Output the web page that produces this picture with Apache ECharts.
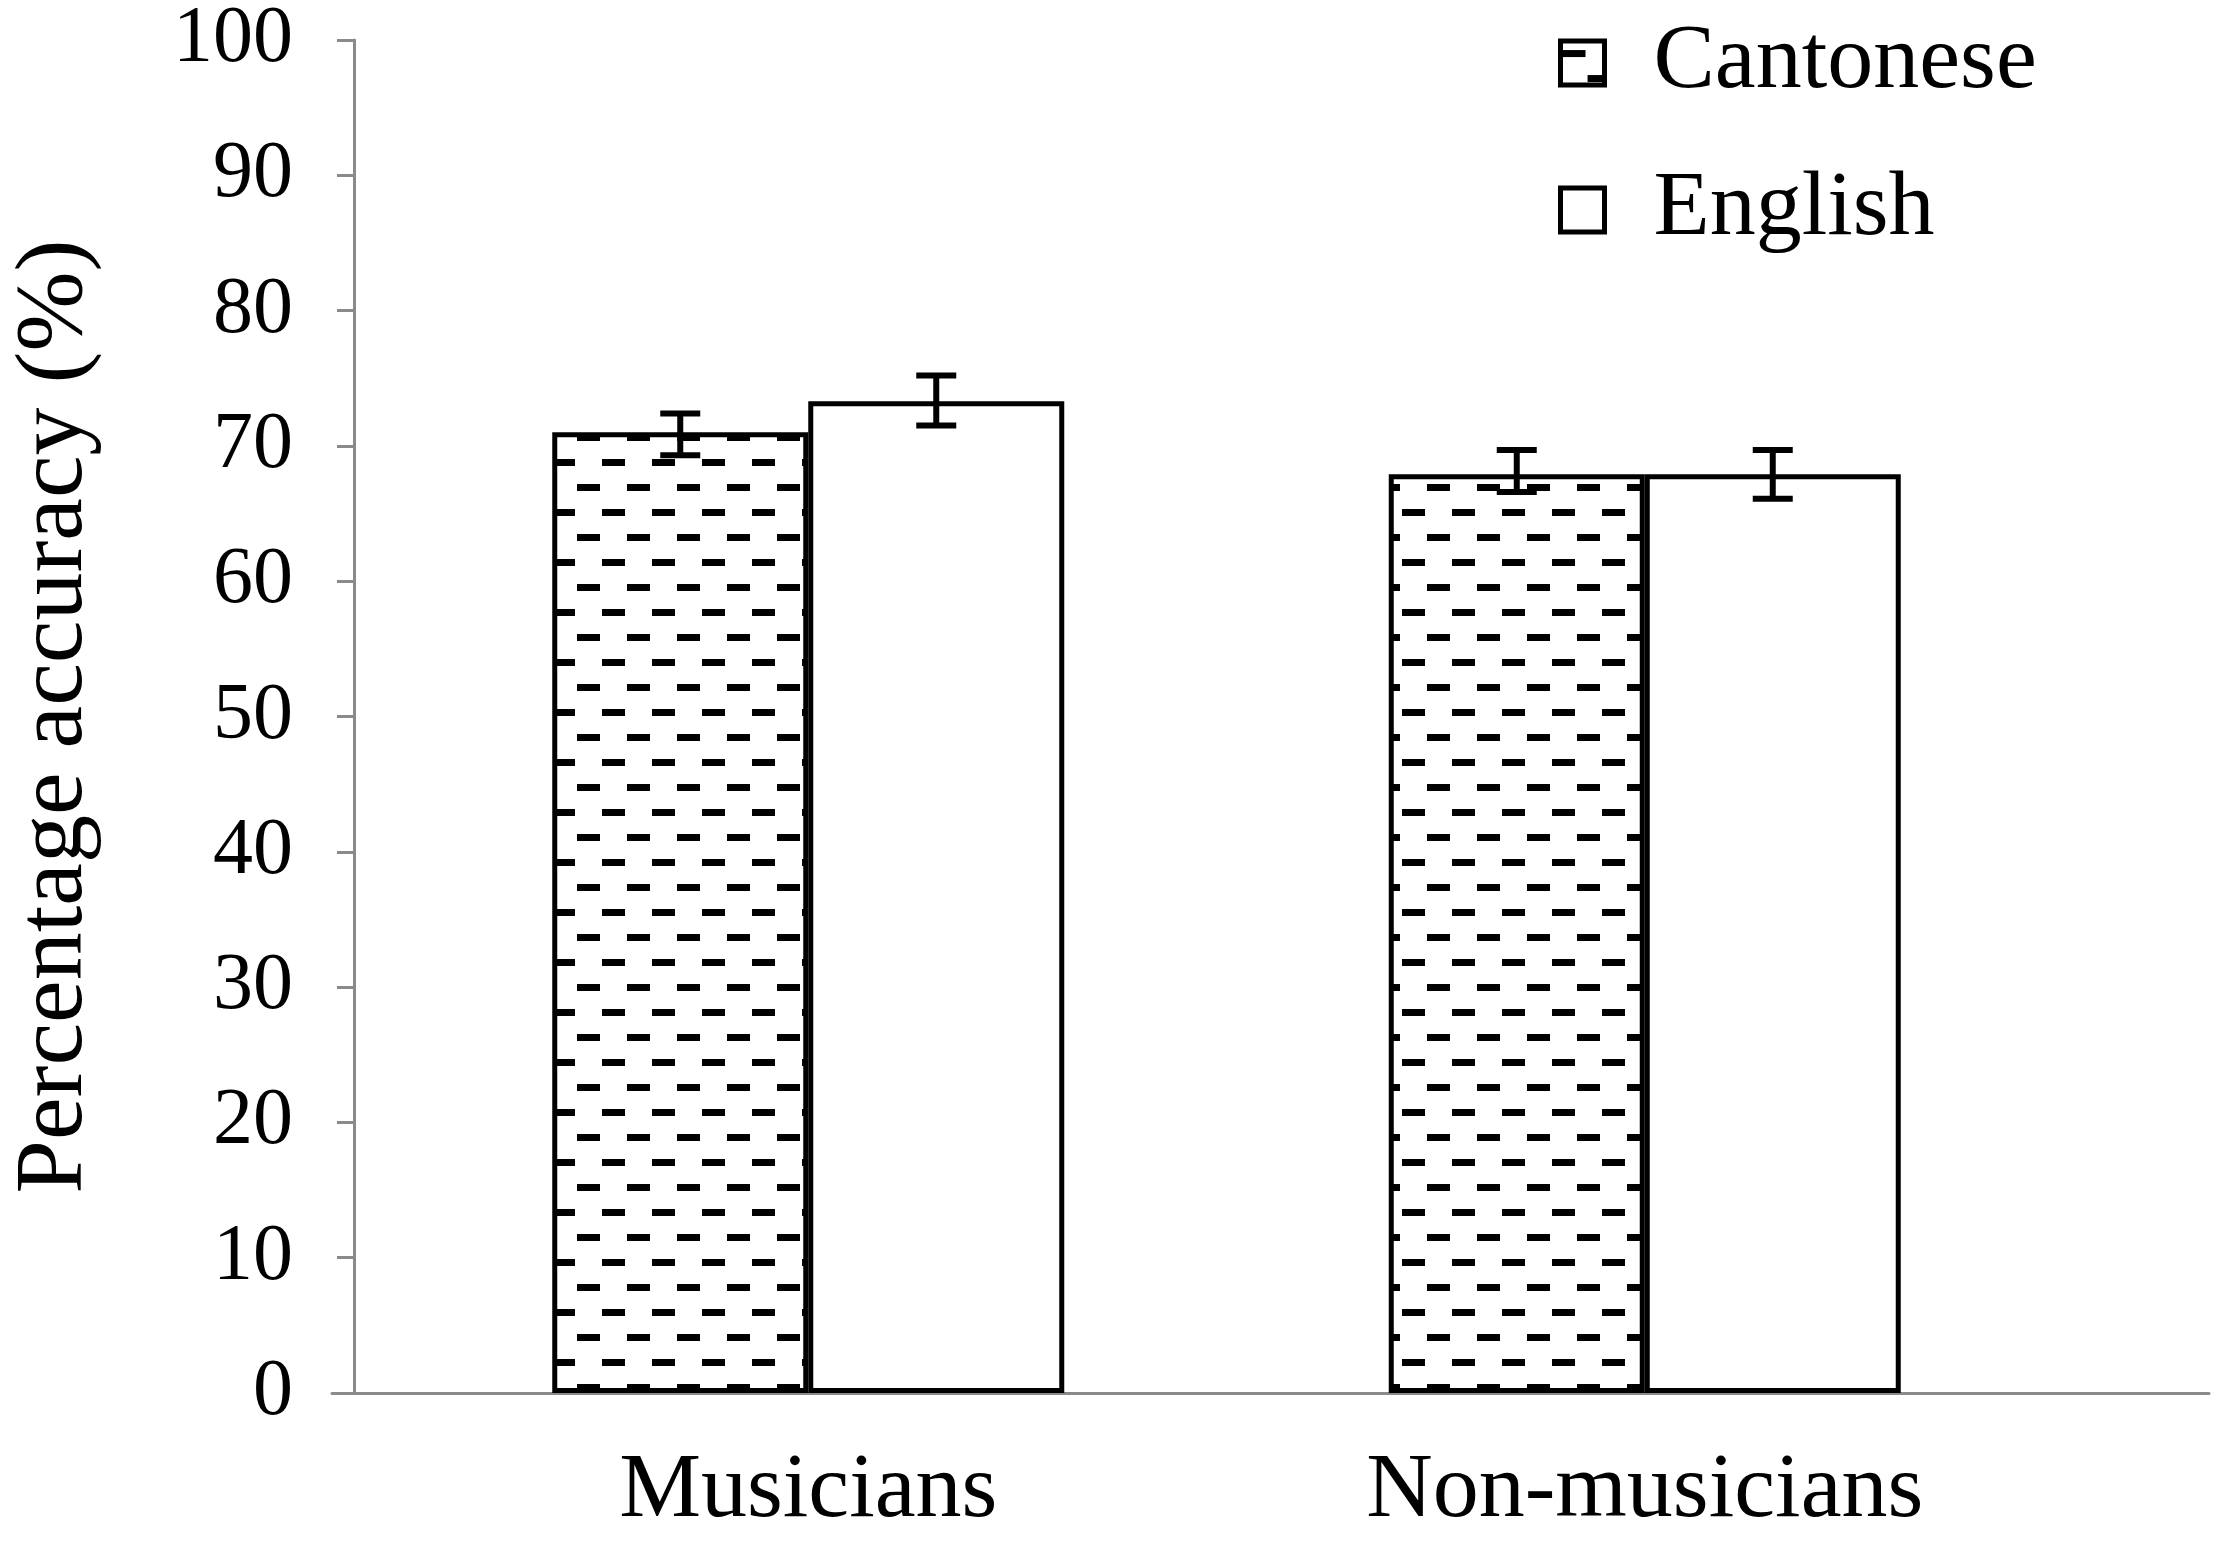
<!DOCTYPE html>
<html>
<head>
<meta charset="utf-8">
<script src="https://cdn.jsdelivr.net/npm/echarts@6/dist/echarts.min.js"></script>
<style>
  html, body { margin: 0; background: #fff; }
  #chart { width: 2217px; height: 1545px; }
</style>
</head>
<body>
<div id="chart"></div>
<script>
// data
const groups = ['Musicians', 'Non-musicians']
const seriesNames = ['Cantonese', 'English']
const cantonese = [71.0, 67.9]
const english = [73.3, 67.9]
const cantoneseLow = [69.3, 66.6]
const cantoneseHigh = [72.4, 69.7]
const englishLow = [71.5, 66.1]
const englishHigh = [75.2, 69.7]
const yMin = 0
const yMax = 100
const yStep = 10

const FONT = '"Liberation Serif", "DejaVu Serif", serif'
const BAR_WIDTH = 256
const CAP = 40
const AXIS_GREY = '#8a8a8a'

// dashed fill used for the Cantonese bars
function dashPattern () {
  const c = document.createElement('canvas')
  c.width = 50
  c.height = 50
  const ctx = c.getContext('2d')
  ctx.fillStyle = '#fff'
  ctx.fillRect(0, 0, 50, 50)
  ctx.fillStyle = '#000'
  ctx.fillRect(2, 9, 23, 7)
  ctx.fillRect(27, 34, 23, 7)
  return c
}

function errorBars (low, high, side) {
  return {
    type: 'custom',
    xAxisIndex: 0,
    yAxisIndex: 0,
    z: 10,
    silent: true,
    data: low.map((v, i) => [i, v, high[i]]),
    renderItem: function (params, api) {
      const x = api.coord([api.value(0), 0])[0] + side * BAR_WIDTH / 2
      const yLo = api.coord([api.value(0), api.value(1)])[1]
      const yHi = api.coord([api.value(0), api.value(2)])[1]
      const half = CAP / 2
      const style = { stroke: '#000', lineWidth: 6 }
      return {
        type: 'group',
        children: [
          { type: 'line', shape: { x1: x, y1: yHi, x2: x, y2: yLo }, style: style },
          { type: 'line', shape: { x1: x - half, y1: yHi, x2: x + half, y2: yHi }, style: style },
          { type: 'line', shape: { x1: x - half, y1: yLo, x2: x + half, y2: yLo }, style: style }
        ]
      }
    }
  }
}

const chart = echarts.init(document.getElementById('chart'))
chart.setOption({
  animation: false,
  backgroundColor: '#fff',
  textStyle: { fontFamily: FONT, color: '#000' },
  legend: {
    data: seriesNames,
    orient: 'vertical',
    left: 1553,
    top: 12,
    icon: 'rect',
    itemWidth: 44,
    itemHeight: 44,
    itemGap: 55,
    itemStyle: { borderWidth: 5, borderColor: '#000' },
    textStyle: {
      fontFamily: FONT,
      fontSize: 92,
      lineHeight: 90,
      color: '#000',
      padding: [0, 0, 0, 44]
    }
  },
  grid: [
    { left: 387, right: 154, top: 34, bottom: 152 },
    { left: 332, right: 8, top: 34, bottom: 152 }
  ],
  xAxis: [
    {
      type: 'category',
      gridIndex: 0,
      data: groups,
      axisLine: { show: false },
      axisTick: { show: false },
      axisLabel: {
        margin: 53,
        fontFamily: FONT,
        fontSize: 92,
        lineHeight: 92,
        color: '#000'
      }
    },
    {
      type: 'value',
      gridIndex: 1,
      min: 0,
      max: 1,
      axisLine: { show: true, onZero: false, lineStyle: { color: AXIS_GREY, width: 3 } },
      axisTick: { show: false },
      axisLabel: { show: false },
      splitLine: { show: false }
    }
  ],
  yAxis: [
    {
      type: 'value',
      gridIndex: 0,
      offset: 36,
      min: yMin,
      max: yMax,
      interval: yStep,
      name: 'Percentage accuracy (%)',
      nameLocation: 'middle',
      nameGap: 250,
      nameTextStyle: { fontFamily: FONT, fontSize: 96, color: '#000' },
      axisLine: { show: true, lineStyle: { color: AXIS_GREY, width: 3 } },
      axisTick: { show: true, length: 17, lineStyle: { color: AXIS_GREY, width: 3 } },
      axisLabel: { margin: 61, fontFamily: FONT, fontSize: 80, color: '#000' },
      splitLine: { show: false }
    },
    {
      type: 'value',
      gridIndex: 1,
      show: false,
      min: 0,
      max: 1
    }
  ],
  series: [
    {
      name: seriesNames[0],
      type: 'bar',
      barWidth: BAR_WIDTH,
      barGap: '0%',
      data: cantonese,
      itemStyle: {
        color: { image: dashPattern(), repeat: 'repeat' },
        borderColor: '#000',
        borderWidth: 5
      }
    },
    {
      name: seriesNames[1],
      type: 'bar',
      barWidth: BAR_WIDTH,
      barGap: '0%',
      data: english,
      itemStyle: { color: '#fff', borderColor: '#000', borderWidth: 5 }
    },
    errorBars(cantoneseLow, cantoneseHigh, -1),
    errorBars(englishLow, englishHigh, 1)
  ]
})
</script>
</body>
</html>
